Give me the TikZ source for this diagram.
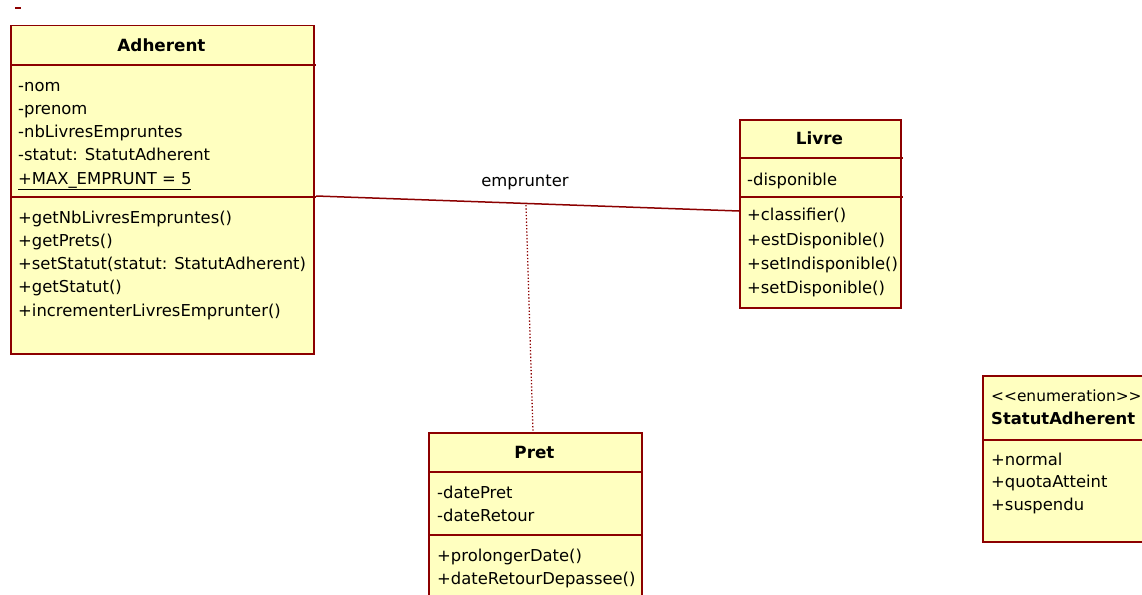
\documentclass[tikz,border=0pt]{standalone}
\usepackage{fontspec}
\setmainfont{DejaVu Sans}
\definecolor{umlred}{RGB}{140,0,0}
\definecolor{umlfill}{RGB}{255,255,192}
\begin{document}
\begin{tikzpicture}[x=1pt,y=-1pt,
  classbox/.style={draw=umlred, fill=umlfill, line width=1.5pt, inner sep=0, anchor=north west},
  sep/.style={draw=umlred, line width=1.5pt},
  assoc/.style={draw=umlred, line width=1.5pt},
  dotl/.style={draw=umlred, line width=1.3pt, dotted},
  txt/.style={anchor=base west, inner sep=0, font=\fontsize{16.4}{19}\selectfont},
  ttl/.style={anchor=base, inner sep=0, font=\fontsize{16.8}{19}\selectfont\bfseries},
  lbl/.style={anchor=base, inner sep=0, font=\fontsize{16.4}{19}\selectfont}]
\clip (0,0) rectangle (1142,594);
% stray mark
\draw[sep] (15,8) -- (21,8);
% Adherent
\node[classbox, minimum width=303, minimum height=328] (adh) at (10,25) {};
\draw[sep] (10,65) -- (316,65);
\draw[sep] (10,197) -- (316,197);
\node[ttl] (adhT) at (161.5,52) {Adherent};
\node[txt] (a1) at (18,92) {-nom};
\node[txt] (a2) at (18,114) {-prenom};
\node[txt] (a3) at (18,137) {-nbLivresEmpruntes};
\node[txt] (a4) at (18,160) {-statut: StatutAdherent};
\node[txt] (a5) at (18,184) {\underline{+MAX\_EMPRUNT = 5}};
\node[txt] (m1) at (18,223) {+getNbLivresEmpruntes()};
\node[txt] (m2) at (18,246) {+getPrets()};
\node[txt] (m3) at (18,269) {+setStatut(statut: StatutAdherent)};
\node[txt] (m4) at (18,292) {+getStatut()};
\node[txt] (m5) at (18,316) {+incrementerLivresEmprunter()};
% Livre
\node[classbox, minimum width=161, minimum height=188] (liv) at (739,119) {};
\draw[sep] (739,158) -- (903,158);
\draw[sep] (739,197) -- (903,197);
\node[ttl] (livT) at (819.5,144) {Livre};
\node[txt] (l1) at (747,185) {-disponible};
\node[txt] (l2) at (747,220) {+classifier()};
\node[txt] (l3) at (747,245) {+estDisponible()};
\node[txt] (l4) at (747,269) {+setIndisponible()};
\node[txt] (l5) at (747,293) {+setDisponible()};
% Pret
\node[classbox, minimum width=213, minimum height=200] (pret) at (428,432) {};
\draw[sep] (428,472) -- (643,472);
\draw[sep] (428,535) -- (643,535);
\node[ttl] (pretT) at (534.5,458) {Pret};
\node[txt] (p1) at (437,498) {-datePret};
\node[txt] (p2) at (437,521) {-dateRetour};
\node[txt] (p3) at (437,561) {+prolongerDate()};
\node[txt] (p4) at (437,584) {+dateRetourDepassee()};
% StatutAdherent
\node[classbox, minimum width=200, minimum height=166] (enm) at (982,375) {};
\draw[sep] (982,440) -- (1160,440);
\node[txt, font=\fontsize{15.4}{19}\selectfont] (e0) at (991,401) {<{}<enumeration>{}>};
\node[txt, font=\fontsize{16.4}{19}\selectfont\bfseries] (e1) at (991,424) {StatutAdherent};
\node[txt] (e2) at (991,465) {+normal};
\node[txt] (e3) at (991,487) {+quotaAtteint};
\node[txt] (e4) at (991,510) {+suspendu};
% association
\coordinate (aL) at (316,196);
\coordinate (aR) at (739,211);
\draw[assoc] (aL) -- (aR);
\node[lbl] (emp) at (525,186) {emprunter};
\coordinate (mid) at (526,205);
\draw[dotl] (mid) -- (pret.north -| 533,0);
\end{tikzpicture}
\end{document}
